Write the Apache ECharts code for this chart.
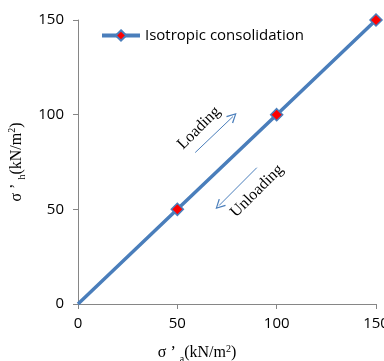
<!DOCTYPE html>
<html><head><meta charset="utf-8">
<script src="https://cdn.jsdelivr.net/npm/echarts@6/dist/echarts.min.js"></script>
<style>html,body{margin:0;padding:0;background:#fff}#c{width:384px;height:361px}</style>
</head><body><div id="c"></div>
<script>
const seriesName = 'Isotropic consolidation';
const xValues = [0, 50, 100, 150];
const yValues = [0, 50, 100, 150];
const loadingArrow = [[59, 80], [78, 99]];
const unloadingArrow = [[90, 72], [71, 52]];

const chart = echarts.init(document.getElementById('c'));
const serif = '"Liberation Serif","DejaVu Serif",serif';
const sans = '"Open Sans","Liberation Sans",sans-serif';
const data = xValues.map((x, i) => i === 0 ? {value: [x, yValues[i]], symbol: 'none'} : [x, yValues[i]]);
const rich = {
  n: {fontFamily: serif, fontSize: 16, color: '#000'},
  s: {fontFamily: serif, fontSize: 10, color: '#000', padding: [12, 0, 0, 0]},
  p: {fontFamily: serif, fontSize: 10, color: '#000', padding: [0, 0, 7, 0]}
};
const axisCommon = {
  min: 0, max: 150, interval: 50,
  axisLine: {show: true, lineStyle: {color: '#868686', width: 1}},
  axisTick: {show: true, inside: false, length: 5, lineStyle: {color: '#868686'}},
  splitLine: {show: false},
  axisLabel: {color: '#000', fontSize: 15, fontFamily: sans}
};
const arrowHead = 'path://M0,10L5,0L10,10L8.8,10.6L5,2.6L1.2,10.6Z';
chart.setOption({
  animation: false,
  grid: {left: 78, right: 8, top: 20, bottom: 57, outerBoundsMode: 'none', containLabel: false},
  legend: {
    left: 95, top: 23, itemWidth: 38, itemHeight: 13, itemGap: 3,
    textStyle: {fontFamily: sans, fontSize: 15, color: '#000'},
    data: [{name: seriesName, lineStyle: {width: 4, color: '#4A7EBB'}}]
  },
  xAxis: Object.assign({}, axisCommon, {
    type: 'value', name: '{n|σ \u2019 }{s|a}{n|(kN/m}{p|2}{n|)}', nameLocation: 'middle', nameGap: 38,
    axisLabel: Object.assign({}, axisCommon.axisLabel, {margin: 12}),
    nameTextStyle: {rich: rich, padding: [0, 60, 0, 0]}
  }),
  yAxis: Object.assign({}, axisCommon, {
    type: 'value', name: '{n|σ \u2019 }{s|h}{n|(kN/m}{p|2}{n|)}', nameLocation: 'middle', nameGap: 50,
    axisLabel: Object.assign({}, axisCommon.axisLabel, {margin: 14}),
    nameTextStyle: {rich: rich}
  }),
  series: [{
    name: seriesName, type: 'line', data: data,
    lineStyle: {color: '#4A7EBB', width: 3.5},
    itemStyle: {color: '#FF0000', borderColor: '#4A7EBB', borderWidth: 1.5},
    symbol: 'diamond', symbolSize: 12, showAllSymbol: true,
    markLine: {
      silent: true, symbol: ['none', arrowHead], symbolSize: [10, 10],
      lineStyle: {color: '#4A7EBB', width: 1, type: 'solid'},
      label: {show: false},
      data: [
        [{coord: loadingArrow[0]}, {coord: loadingArrow[1]}],
        [{coord: unloadingArrow[0]}, {coord: unloadingArrow[1]}]
      ]
    }
  }],
  graphic: [
    {type: 'text', x: 199, y: 128, rotation: Math.PI / 4, style: {text: 'Loading', font: '16px ' + serif, fill: '#000', align: 'center', verticalAlign: 'middle'}},
    {type: 'text', x: 257, y: 191, rotation: Math.PI / 4, style: {text: 'Unloading', font: '16px ' + serif, fill: '#000', align: 'center', verticalAlign: 'middle'}}
  ]
});
</script></body></html>
